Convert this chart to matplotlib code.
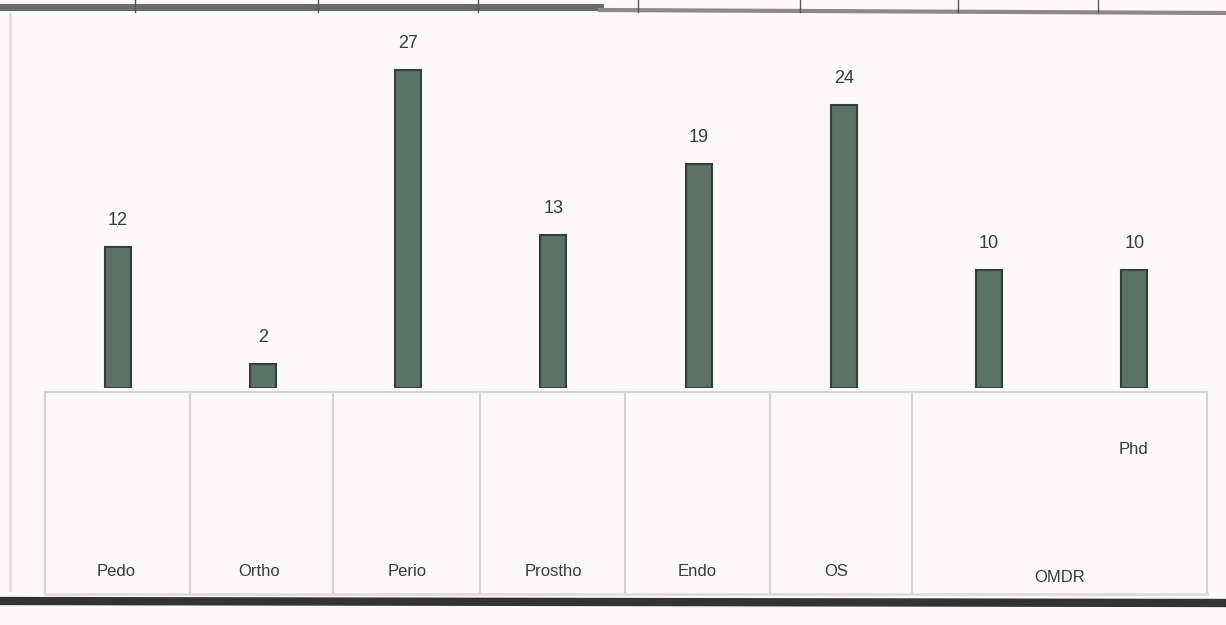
import matplotlib.pyplot as plt
from matplotlib.lines import Line2D

# Data
departments = ['Pedo', 'Ortho', 'Perio', 'Prostho', 'Endo', 'OS', '', 'Phd']
counts = [12, 2, 27, 13, 19, 24, 10, 10]
group_label = 'OMDR'

bg = '#fdf8f9'
bar_color = '#5b7267'
text_color = '#3a3a3a'

fig = plt.figure(figsize=(12.26, 6.25), dpi=100, facecolor=bg)
ax = fig.add_axes([45 / 1226, 1 - 388 / 625, 1162 / 1226, (388 - 31) / 625])
ax.set_facecolor(bg)

x = range(len(counts))
bars = ax.bar(x, counts, width=0.18, color=bar_color, edgecolor='#33403a', linewidth=1.5)
for rect, v in zip(bars, counts):
    ax.annotate(str(v), (rect.get_x() + rect.get_width() / 2, v),
                xytext=(0, 13), textcoords='offset points', ha='center', va='bottom',
                fontsize=13, color=text_color, family='Liberation Sans')

ax.set_xlim(-0.5, 7.5)
ax.set_ylim(0, 30.3)
ax.set_xticks([])
ax.set_yticks([])
for s in ax.spines.values():
    s.set_visible(False)

# label table below the bars (figure pixel coords -> fractions)
W, H = 1226, 625
def fx(px):
    return px / W
def fy(py):
    return 1 - py / H

cell_top, cell_bot = 392, 592
table_col = '#d6d2d3'
fig.add_artist(Line2D([fx(45), fx(1207)], [fy(cell_top), fy(cell_top)], color=table_col, lw=1.5))
for px in [45, 190, 333, 480, 625, 770, 912, 1207]:
    fig.add_artist(Line2D([fx(px), fx(px)], [fy(cell_top), fy(cell_bot)], color=table_col, lw=1.5))

label_x = [116, 259, 407, 553, 697, 836]
for px, name in zip(label_x, departments[:6]):
    fig.text(fx(px), fy(572), name, ha='center', va='center', fontsize=12,
             color=text_color, family='Liberation Sans')
fig.text(fx(1133), fy(450), departments[7], ha='center', va='center', fontsize=12,
         color=text_color, family='Liberation Sans')
fig.text(fx(1060), fy(577), group_label, ha='center', va='center', fontsize=12,
         color=text_color, family='Liberation Sans')

# scan edges: dark border at the top with table cells, thick line at the bottom
fig.add_artist(Line2D([0, fx(600)], [fy(7), fy(7)], color='#6a6a6a', lw=5))
fig.add_artist(Line2D([fx(600), 1], [fy(10), fy(13)], color='#8a8a8a', lw=3))
for px in [135, 318, 478, 638, 800, 958, 1098]:
    fig.add_artist(Line2D([fx(px), fx(px)], [1, fy(12)], color='#555555', lw=1))
fig.add_artist(Line2D([fx(10), fx(10)], [fy(14), fy(590)], color='#e4e0e1', lw=2))
fig.add_artist(Line2D([0, 1], [fy(601), fy(603)], color='#333333', lw=6))
fig.add_artist(Line2D([fx(45), fx(1207)], [fy(594), fy(594)], color='#e0dcdd', lw=2))

fig.savefig('out.png', dpi=100, facecolor=bg)
